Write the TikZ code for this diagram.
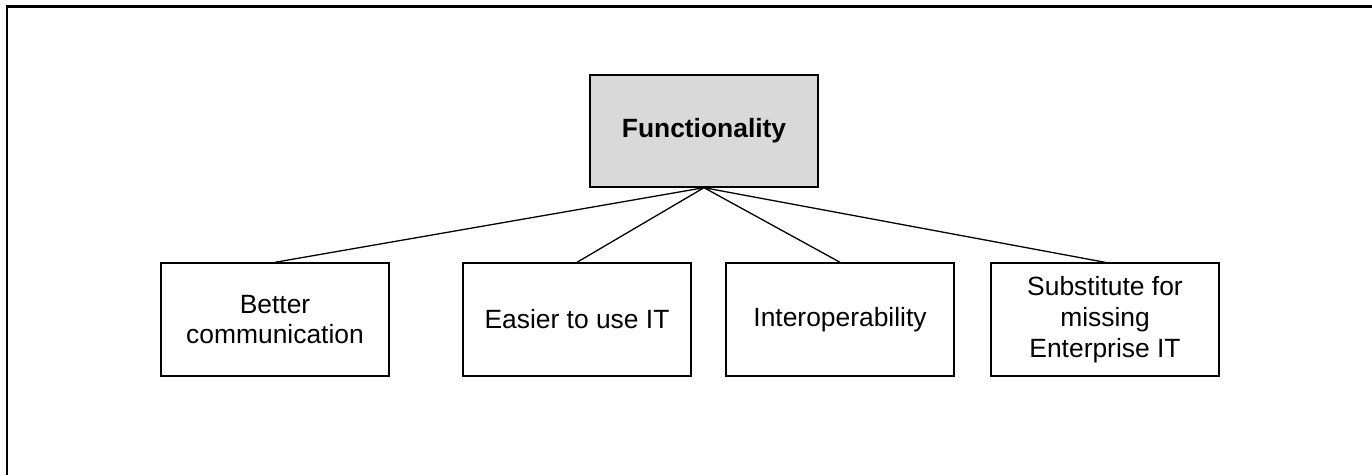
\documentclass[tikz,border=0pt]{standalone}
\usepackage{fontspec}
\setmainfont{Liberation Sans}
\usetikzlibrary{positioning}

\begin{document}
\begin{tikzpicture}[x=1pt,y=1pt,node distance=151pt,on grid,
	box/.style={draw,line width=0.7pt,minimum width=114pt,minimum height=56.5pt,
		align=center,inner sep=2pt,font=\fontsize{13.2}{15.4}\selectfont},
	topbox/.style={box,fill=black!15,minimum height=56pt,
		font=\fontsize{13.2}{15.4}\selectfont\bfseries}]
		\useasboundingbox (0,0) rectangle (686,237.5);
		\draw[line width=1.1pt] (3.3,0) -- (3.3,234.2) -- (686,234.2);
		
		\node[topbox]        (func)  at (352,172) {Functionality};
		\node[box]           (comm)  at (137.5,77.75) {Better\\communication};
		\node[box]           (easy)  [right=151pt of comm] {Easier to use IT};
		\node[box]           (inter) [right=131.5pt of easy] {Interoperability};
		\node[box]           (subst) [right=132.5pt of inter] {Substitute for\\missing\\Enterprise IT};
		
		\draw[line width=0.65pt] (func.south) -- (comm.north)
		(func.south) -- (easy.north)
		(func.south) -- (inter.north)
		(func.south) -- (subst.north);
	\end{tikzpicture}
\end{document}
